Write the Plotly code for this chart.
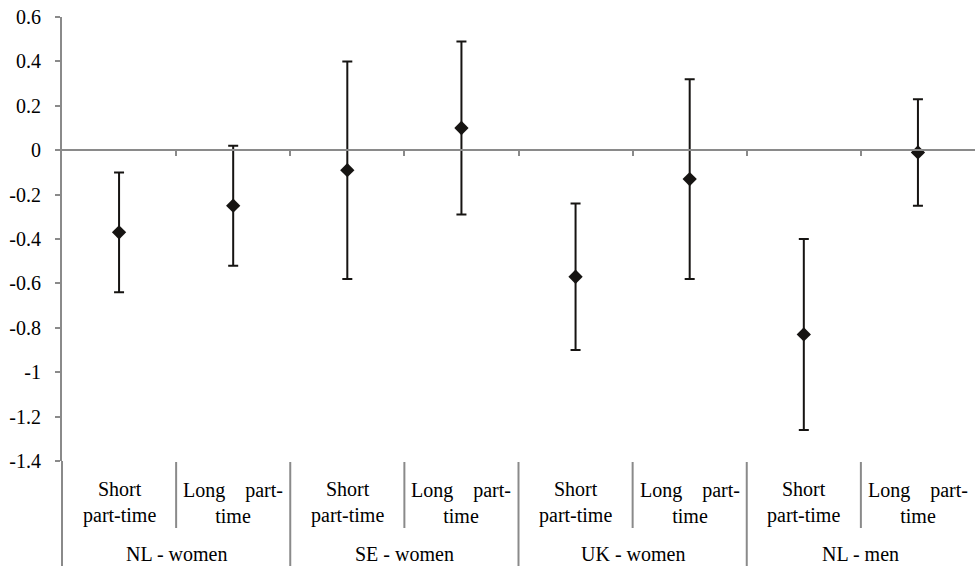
import plotly.graph_objects as go

groups = ["NL - women", "SE - women", "UK - women", "NL - men"]
subcats = ["Short<br>part-time", "Long\u00a0\u00a0\u00a0\u00a0part-<br>time"]
estimate = [-0.37, -0.25, -0.09, 0.10, -0.57, -0.13, -0.83, -0.01]
lower = [-0.64, -0.52, -0.58, -0.29, -0.90, -0.58, -1.26, -0.25]
upper = [-0.10, 0.02, 0.40, 0.49, -0.24, 0.32, -0.40, 0.23]
ytick_vals = [-1.4, -1.2, -1.0, -0.8, -0.6, -0.4, -0.2, 0, 0.2, 0.4, 0.6]
ytick_text = ["-1.4", "-1.2", "-1", "-0.8", "-0.6", "-0.4", "-0.2", "0", "0.2", "0.4", "0.6"]

n = len(estimate)
xs = list(range(n))
err_plus = [u - e for u, e in zip(upper, estimate)]
err_minus = [e - l for e, l in zip(estimate, lower)]

FONT = "Liberation Serif, Times New Roman, DejaVu Serif, serif"
AXIS = "#8a8a8a"
INK = "#161412"
FS = 20

fig = go.Figure()
fig.add_trace(go.Scatter(
    x=xs, y=estimate, mode="markers",
    marker=dict(symbol="diamond", size=11, color=INK),
    error_y=dict(type="data", symmetric=False, array=err_plus, arrayminus=err_minus,
                 color=INK, thickness=2, width=5),
    showlegend=False,
))

ymin, ymax = -1.4, 0.6
zero_pos = (0 - ymin) / (ymax - ymin)

fig.update_layout(
    width=976, height=566,
    margin=dict(l=62, r=1, t=17, b=105),
    paper_bgcolor="white", plot_bgcolor="white",
    font=dict(family=FONT, size=FS, color="black"),
    xaxis=dict(range=[-0.5, n - 0.5], anchor="free", position=zero_pos,
               showline=True, linecolor=AXIS, linewidth=2,
               ticks="outside", tickvals=[i + 0.5 for i in range(n - 1)],
               ticklen=5, tickcolor=AXIS, tickwidth=2,
               showticklabels=False, showgrid=False, zeroline=False),
    yaxis=dict(range=[ymin, ymax], tickvals=ytick_vals, ticktext=ytick_text,
               showline=True, linecolor=AXIS, linewidth=2,
               ticks="outside", ticklen=5, tickcolor=AXIS, tickwidth=2,
               showgrid=False, zeroline=False, ticklabelstandoff=10,
               tickfont=dict(family=FONT, size=FS, color="black")),
)

plot_h = 566 - 17 - 105
def py(px):
    return (461 - px) / plot_h

# y-axis line extended through the label area
fig.add_shape(type="line", xref="paper", yref="paper", x0=0, x1=0, y0=0, y1=py(566),
              line=dict(color=AXIS, width=2))

# separators
for i in range(n - 1):
    b = i + 0.5
    is_group = (i % 2 == 1)
    fig.add_shape(type="line", xref="x", yref="paper", x0=b, x1=b,
                  y0=py(462), y1=py(566) if is_group else py(528),
                  line=dict(color=AXIS, width=2))

# subcategory labels
for i in range(n):
    fig.add_annotation(x=i, xref="x", y=py(503), yref="paper",
                       text=subcats[i % 2], showarrow=False,
                       xanchor="center", yanchor="middle", align="center",
                       font=dict(family=FONT, size=FS, color="black"))

# group labels
for g, name in enumerate(groups):
    fig.add_annotation(x=2 * g + 0.5, xref="x", y=py(554), yref="paper",
                       text=name, showarrow=False,
                       xanchor="center", yanchor="middle",
                       font=dict(family=FONT, size=FS, color="black"))

fig.write_html("out.html", config={"displayModeBar": False},
               post_script="document.body.style.margin='0';document.body.style.overflow='hidden';")
